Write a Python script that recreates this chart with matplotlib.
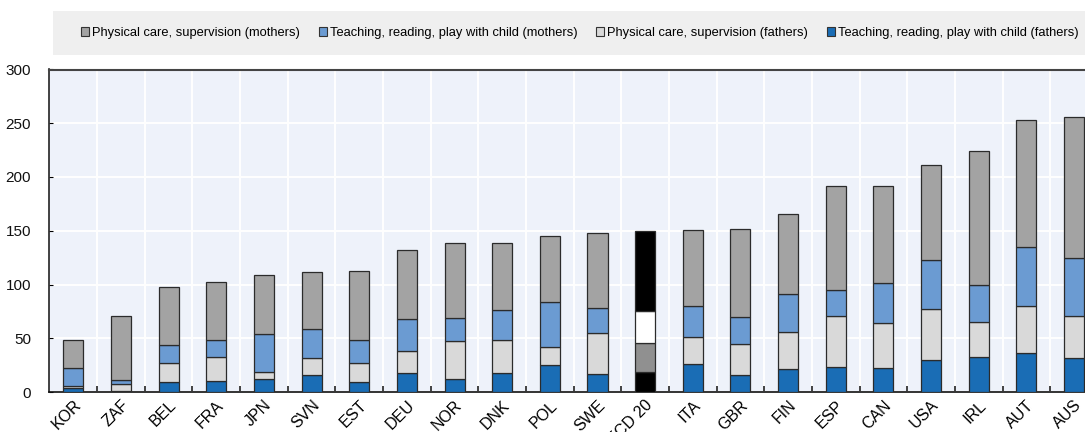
import matplotlib
matplotlib.use("Agg")
import matplotlib.pyplot as plt
import numpy as np
from matplotlib.patches import Rectangle, Patch

plt.rcParams['font.family'] = ['Liberation Sans', 'DejaVu Sans']

countries = ["KOR", "ZAF", "BEL", "FRA", "JPN", "SVN", "EST", "DEU", "NOR", "DNK", "POL",
             "SWE", "OECD 20", "ITA", "GBR", "FIN", "ESP", "CAN", "USA", "IRL", "AUT", "AUS"]
fathers_teaching = [4, 1, 9, 10, 12, 16, 9, 18, 12, 18, 25, 17, 19, 26, 16, 21, 23, 22, 30, 33, 36, 32]
fathers_physical = [2, 6, 18, 23, 7, 16, 18, 20, 35, 30, 17, 38, 27, 25, 29, 35, 48, 42, 47, 32, 44, 39]
mothers_teaching = [16, 4, 17, 15, 35, 27, 21, 30, 22, 28, 42, 23, 29, 29, 25, 35, 24, 37, 46, 35, 55, 54]
mothers_physical = [26, 60, 54, 54, 55, 53, 65, 64, 70, 63, 61, 70, 75, 71, 82, 75, 97, 91, 88, 124, 118, 131]
yticks = [0, 50, 100, 150, 200, 250, 300]

labels = ["Physical care, supervision (mothers)",
          "Teaching, reading, play with child (mothers)",
          "Physical care, supervision (fathers)",
          "Teaching, reading, play with child (fathers)"]
colors = ["#a3a3a3", "#6b9bd2", "#d9d9d9", "#1a6db5"]
oecd_colors = ["#000000", "#ffffff", "#909090", "#000000"]

fig = plt.figure(figsize=(10.85, 4.32), dpi=100)
ax = fig.add_axes([49/1085, 1 - 392/432, 1 - 49/1085, (392 - 69.5)/432])
ax.set_facecolor("#eef2fa")

x = np.arange(len(countries))
w = 0.42
series_bottom_up = [fathers_teaching, fathers_physical, mothers_teaching, mothers_physical]
cols_bottom_up = [colors[3], colors[2], colors[1], colors[0]]
oecd_bottom_up = [oecd_colors[3], oecd_colors[2], oecd_colors[1], oecd_colors[0]]
oecd_idx = countries.index("OECD 20")
bottom = np.zeros(len(countries))
for vals, c, oc in zip(series_bottom_up, cols_bottom_up, oecd_bottom_up):
    vals = np.array(vals, dtype=float)
    fc = [oc if i == oecd_idx else c for i in range(len(countries))]
    ax.bar(x, vals, w, bottom=bottom, color=fc, edgecolor="#2b2b2b", linewidth=0.9, zorder=3)
    bottom += vals

ax.set_ylim(0, 300)
ax.set_xlim(-0.51, 21.23)
ax.set_yticks(yticks)
ax.set_yticklabels([str(v) for v in yticks], fontsize=11, color="#111111")
ax.tick_params(axis="y", direction="in", length=3, width=0.8, pad=13)
ax.set_xticks(x)
ax.set_xticklabels(countries, rotation=45, ha="right", rotation_mode="anchor", fontsize=11.5, color="#000000")
ax.tick_params(axis="x", length=0, pad=4)
ax.set_xticks(x[:-1] + 0.5, minor=True)
ax.tick_params(axis="x", which="minor", direction="in", length=4, width=1.2, color="#222222")

ax.grid(True, axis="y", color="white", linewidth=1.4, zorder=0)
ax.grid(True, axis="x", which="minor", color="white", linewidth=1.4, zorder=0)
ax.grid(False, axis="x", which="major")
ax.set_axisbelow(True)
ax.spines["top"].set_color("#444444")
ax.spines["top"].set_linewidth(1.5)
ax.spines["right"].set_visible(False)
ax.spines["left"].set_color("#222222")
ax.spines["left"].set_linewidth(1.2)
ax.spines["bottom"].set_color("#111111")
ax.spines["bottom"].set_linewidth(1.2)

# legend box
fig.patches.append(Rectangle((53/1085, 1 - 55/432), 1 - 53/1085, 44/432,
                             transform=fig.transFigure, facecolor="#efefef", edgecolor="none", zorder=0))
handles = [Patch(facecolor=c, edgecolor="#333333", linewidth=0.8) for c in colors]
fig.legend(handles, labels, loc="center", bbox_to_anchor=(580/1085, 1 - 33/432), ncol=4,
           frameon=False, fontsize=9.3, handlelength=0.6, handleheight=0.6, handletextpad=0.25,
           columnspacing=1.45, borderaxespad=0)

fig.savefig("out.png", dpi=100)
